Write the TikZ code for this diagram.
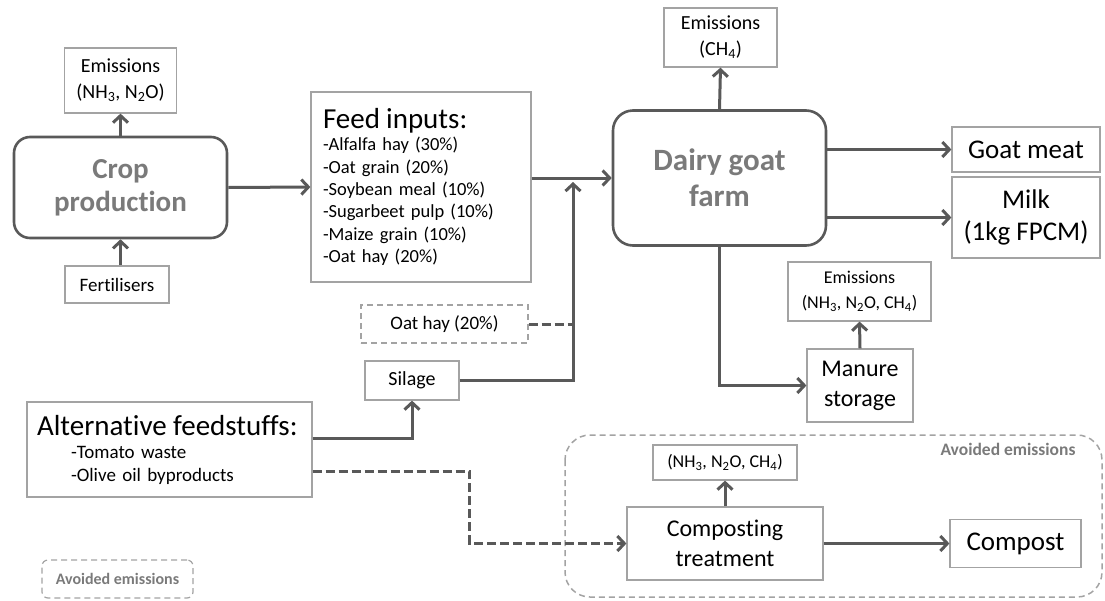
\documentclass[tikz,border=0pt]{standalone}
\usepackage{fontspec}
\setmainfont{Carlito}[Ligatures=NoCommon]
\usetikzlibrary{arrows.meta,positioning}

\definecolor{linegrey}{HTML}{595959}
\definecolor{boxgrey}{HTML}{A3A3A3}
\definecolor{textgrey}{HTML}{7A7A7A}
\newcommand{\fsz}[2]{\fontsize{#1}{#2}\selectfont}

\begin{document}
\begin{tikzpicture}[x=1pt,y=-1pt,
    box/.style={draw=boxgrey,line width=1.2pt,rectangle,inner sep=0pt,align=center,text=black},
    roundbox/.style={draw=linegrey,line width=2.6pt,rounded corners=16pt,inner sep=0pt,align=center,text=textgrey,font=\fsz{29}{33}\bfseries},
    dashbox/.style={box,dash pattern=on 6pt off 4pt},
    flow/.style={draw=linegrey,line width=3pt,-{Straight Barb[length=7pt,width=15pt]}},
    dashflow/.style={flow,dash pattern=on 9pt off 4pt},
    dashline/.style={draw=linegrey,line width=3pt,dash pattern=on 9pt off 4pt}]
    \useasboundingbox (0,0) rectangle (1105,600);

    % Crop side
    \node[roundbox,minimum width=213,minimum height=101] (crop) at (120.5,187.5) {Crop\\production};
    \node[box,minimum width=112,minimum height=65,font=\fsz{20}{26}] (emcrop) at (120.5,80.5) {Emissions\\(NH\textsubscript{3}, N\textsubscript{2}O)};
    \node[box,minimum width=104,minimum height=37,font=\fsz{19}{22}] (fert) at (117,284.5) {Fertilisers};

    % Feed inputs
    \node[box,minimum height=190,align=left,text width=196,inner xsep=12,font=\fsz{18.5}{22.3}] (feed) at (421,187)
        {{\fsz{29}{33}Feed inputs:}\\-Alfalfa hay (30\%)\\-Oat grain (20\%)\\-Soybean meal (10\%)\\-Sugarbeet pulp (10\%)\\-Maize grain (10\%)\\-Oat hay (20\%)};
    \node[dashbox,minimum width=167,minimum height=38,font=\fsz{19}{22}] (oat) at (444.5,324) {Oat hay (20\%)};
    \node[box,minimum width=94,minimum height=39,font=\fsz{20}{22}] (silage) at (412,380.5) {Silage};

    % Alternative feedstuffs
    \node[box,minimum height=95,align=left,text width=265,inner xsep=10,font=\fsz{19}{23}] (alt) at (169.5,449.5)
        {{\fsz{29}{31}Alternative feedstuffs:}\\\hspace*{34pt}-Tomato waste\\\hspace*{34pt}-Olive oil byproducts};
    \node[dashbox,rounded corners=6pt,minimum width=151,minimum height=38,text=textgrey,font=\fsz{16}{18}\bfseries] (avoidkey) at (117.5,579) {Avoided emissions};

    % Farm and products
    \node[roundbox,rounded corners=20pt,minimum width=213,minimum height=135,font=\fsz{31}{36}\bfseries] (dairy) at (719.5,178) {Dairy goat\\farm};
    \node[box,minimum width=113,minimum height=59,font=\fsz{20}{26}] (emfarm) at (720.5,37.5) {Emissions\\(CH\textsubscript{4})};
    \node[box,minimum width=148,minimum height=45,font=\fsz{27}{30}] (goat) at (1026,149.5) {Goat meat};
    \node[box,minimum width=148,minimum height=81,font=\fsz{27}{32}] (milk) at (1026,217.5) {Milk\\(1kg FPCM)};

    % Manure
    \node[box,minimum width=143,minimum height=59,font=\fsz{18}{25}] (emmanure) at (859.5,291.5) {Emissions\\(NH\textsubscript{3}, N\textsubscript{2}O, CH\textsubscript{4})};
    \node[box,minimum width=106,minimum height=73,font=\fsz{24}{30}] (manure) at (860,385.5) {Manure\\storage};

    % Avoided emissions area
    \draw[draw=boxgrey,line width=1.5pt,dash pattern=on 6pt off 4pt,rounded corners=25pt] (565,435) rectangle (1102,597);
    \node[text=textgrey,font=\fsz{17.5}{20}\bfseries,anchor=east] (avoidlabel) at (1079,449) {Avoided emissions};
    \node[box,minimum width=144,minimum height=35,font=\fsz{18}{22}] (emcompo) at (725,462.5) {(NH\textsubscript{3}, N\textsubscript{2}O, CH\textsubscript{4})};
    \node[box,minimum width=196,minimum height=73,font=\fsz{24}{30}] (compo) at (725,543.5) {Composting\\treatment};
    \node[box,minimum width=131,minimum height=48,font=\fsz{27}{30}] (compost) at (1015.5,543.5) {Compost};

    % Connectors
    \coordinate (join) at (573,182);
    \draw[flow] (crop.north) -- (emcrop.south);
    \draw[flow] (fert.north -| crop.south) -- (crop.south);
    \draw[flow] (crop.east) -- (feed.west);
    \draw[flow] (feed.east |- dairy.west) -- (dairy.west);
    \draw[flow] (silage.east) -| (join);
    \draw[dashline] (oat.east) -- (oat.east -| join);
    \draw[flow] (dairy.north) -- (emfarm.south);
    \draw[flow] (dairy.east |- goat.west) -- (goat.west);
    \draw[flow] (dairy.east |- milk.west) -- (milk.west);
    \draw[flow] (dairy.south) |- (manure.west);
    \draw[flow] (manure.north) -- (emmanure.south);
    \draw[flow] ([yshift=11.5pt]alt.east) -| (silage.south);
    \draw[dashflow] ([yshift=-21.5pt]alt.east) -- ++(157,0) |- (compo.west);
    \draw[flow] (compo.north) -- (emcompo.south);
    \draw[flow] (compo.east) -- (compost.west);
\end{tikzpicture}
\end{document}
